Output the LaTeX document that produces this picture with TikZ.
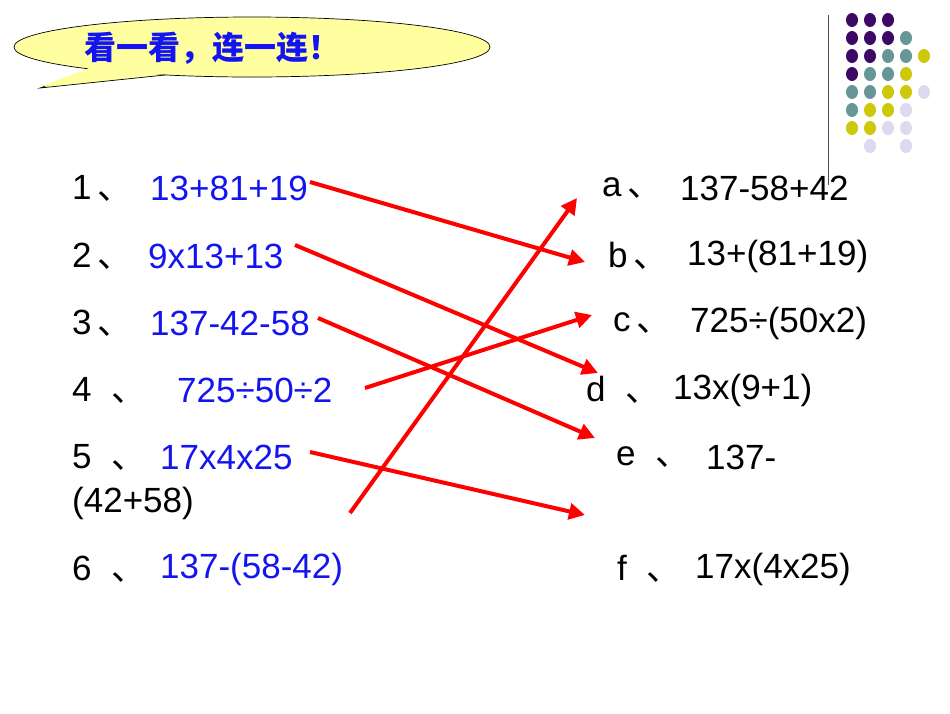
\documentclass[tikz,border=0pt]{standalone}
\usepackage{fontspec}
\setmainfont{Liberation Sans}
\newfontfamily\cjk{Noto Sans CJK SC}
\usetikzlibrary{arrows.meta}
\definecolor{dP}{RGB}{60,10,100}
\definecolor{dT}{RGB}{104,150,150}
\definecolor{dY}{RGB}{205,200,10}
\definecolor{dL}{RGB}{220,218,238}
\definecolor{tb}{RGB}{20,20,240}
\definecolor{cy}{RGB}{255,255,160}
\newcommand{\dn}{{\cjk 、}}
\begin{document}
\begin{tikzpicture}[x=1pt,y=-1pt,
  lbl/.style={anchor=west,inner sep=0pt,font=\fontsize{35}{38}\selectfont},
  expr/.style={lbl,text=tb},
  con/.style={red,line width=4pt,-{Triangle[length=16pt,width=16pt]}}]
\useasboundingbox (0,0) rectangle (950,713);
% callout
\draw[fill=cy,line width=0.7pt] (252,47) ellipse[x radius=238,y radius=30];
\draw[fill=cy,line width=0.7pt] (90,69) -- (40,88) -- (165,75);
\fill[cy] (92,67) -- (40,86.5) -- (163,74) -- (163,64) -- (92,62) -- cycle;
\node (title) at (212,48) {\cjk\bfseries\fontsize{32}{34}\selectfont\color{tb}看一看，连一连！};
% divider and dots
\draw[gray!60!black,line width=1pt] (828,15) -- (828,185);
\foreach \r/\row in {0/{P,P,P},1/{P,P,P,T},2/{P,P,T,T,Y},3/{P,T,T,Y},4/{T,T,Y,Y,L},5/{T,Y,Y,L},6/{Y,Y,L,L}}{
  \foreach \c [count=\i from 0] in \row {
    \fill[d\c] (852+18*\i,20+18*\r) ellipse[x radius=6,y radius=7];}}
\fill[dL] (870,146) ellipse[x radius=6,y radius=7];
\fill[dL] (906,146) ellipse[x radius=6,y radius=7];
% left
\node[lbl] (n1) at (72,188) {1\,\dn};  \node[expr] (l1) at (150,188) {13+81+19};
\node[lbl] (n2) at (72,256) {2\,\dn};  \node[expr] (l2) at (148,256) {9x13+13};
\node[lbl] (n3) at (72,323) {3\,\dn};  \node[expr] (l3) at (150,323) {137-42-58};
\node[lbl] (n4) at (72,390) {4 \ \dn}; \node[expr] (l4) at (177,390) {725÷50÷2};
\node[lbl] (n5) at (72,457) {5 \ \dn}; \node[expr] (l5) at (160,457) {17x4x25};
\node[lbl] (l5b) at (72,503) {(42+58)};
\node[lbl] (n6) at (72,569) {6 \ \dn}; \node[expr] (l6) at (160,569) {137-(58-42)};
% right
\node[lbl] (ra) at (602,188) {a\,\dn}; \node[lbl] (ea) at (680,188) {137-58+42};
\node[lbl] (rb) at (608,256) {b\,\dn}; \node[lbl] (eb) at (687,256) {13+(81+19)};
\node[lbl] (rc) at (613,323) {c\,\dn}; \node[lbl] (ec) at (690,323) {725÷(50x2)};
\node[lbl] (rd) at (586,390) {d \ \dn}; \node[lbl] (ed) at (673,390) {13x(9+1)};
\node[lbl] (re) at (616,457) {e \ \dn}; \node[lbl] (ee) at (706,457) {137-};
\node[lbl] (rf) at (617,569) {f \ \dn}; \node[lbl] (ef) at (695,569) {17x(4x25)};
% connectors
\coordinate (s1) at (310,182); \coordinate (e1) at (585,262);
\coordinate (s2) at (295,245); \coordinate (e2) at (598,373);
\coordinate (s3) at (318,318); \coordinate (e3) at (595,438);
\coordinate (s4) at (365,388); \coordinate (e4) at (592,315);
\coordinate (s5) at (310,452); \coordinate (e5) at (585,515);
\coordinate (s6) at (350,513); \coordinate (e6) at (577,198);
\foreach \k in {1,...,6} \draw[con] (s\k) -- (e\k);
\end{tikzpicture}
\end{document}
